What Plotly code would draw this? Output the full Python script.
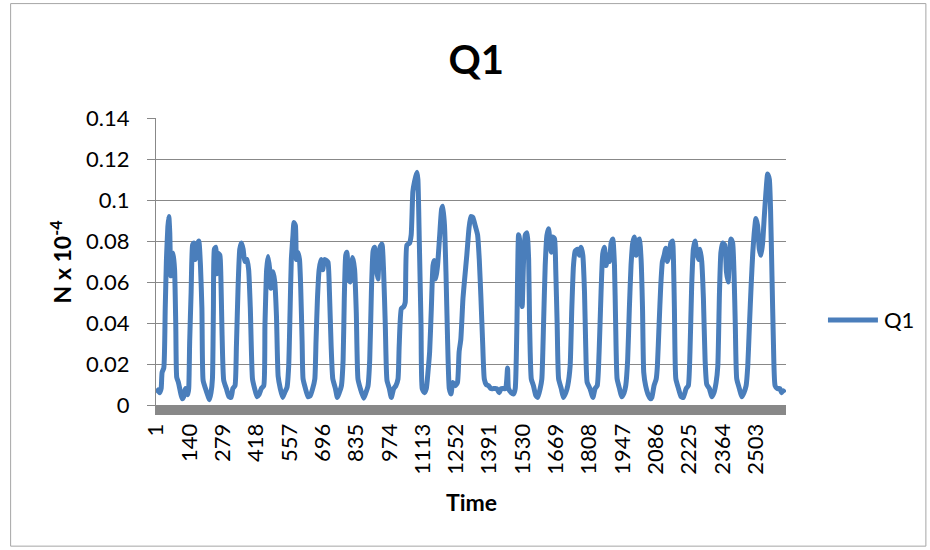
import plotly.graph_objects as go

# Sampled readings of Q1 over time (time index, N x 10^-4)
time = [
    1, 16, 22, 26, 33, 39, 44, 50, 54, 58, 62, 66, 72, 78, 83, 87, 94, 103, 110, 116,
    123, 133, 137, 141, 147, 153, 158, 164, 169, 179, 186, 192, 197, 207, 217, 223, 230, 236, 240, 244,
    250, 254, 260, 267, 271, 276, 283, 294, 305, 314, 321, 330, 336, 343, 350, 357, 364, 371, 380, 387,
    394, 403, 412, 422, 430, 440, 450, 455, 462, 468, 475, 480, 489, 496, 503, 510, 519, 529, 537, 547,
    554, 560, 565, 572, 576, 582, 586, 592, 599, 604, 610, 614, 624, 635, 644, 654, 663, 668, 674, 681,
    689, 696, 704, 711, 718, 724, 731, 738, 749, 757, 765, 774, 781, 786, 792, 797, 804, 811, 821, 829,
    836, 843, 853, 867, 876, 885, 892, 899, 906, 912, 920, 926, 935, 943, 950, 957, 964, 974, 982, 992,
    1001, 1010, 1015, 1024, 1034, 1040, 1047, 1058, 1065, 1072, 1079, 1089, 1093, 1099, 1106, 1111, 1120, 1128, 1135, 1142,
    1149, 1156, 1161, 1168, 1175, 1184, 1192, 1197, 1204, 1210, 1217, 1224, 1231, 1239, 1249, 1258, 1265, 1272, 1281, 1288,
    1297, 1306, 1314, 1322, 1332, 1342, 1349, 1356, 1363, 1370, 1378, 1388, 1397, 1408, 1422, 1432, 1440, 1450, 1459, 1467,
    1471, 1482, 1492, 1499, 1506, 1513, 1517, 1523, 1528, 1534, 1541, 1548, 1555, 1559, 1566, 1575, 1585, 1593, 1603, 1610,
    1617, 1624, 1631, 1638, 1643, 1649, 1656, 1663, 1668, 1674, 1680, 1691, 1700, 1710, 1718, 1728, 1735, 1742, 1749, 1759,
    1767, 1774, 1781, 1788, 1793, 1799, 1811, 1823, 1832, 1841, 1849, 1857, 1864, 1871, 1878, 1885, 1892, 1899, 1906, 1913,
    1918, 1924, 1934, 1943, 1953, 1960, 1968, 1975, 1982, 1989, 1996, 2003, 2010, 2017, 2024, 2030, 2035, 2043, 2055, 2064,
    2069, 2078, 2087, 2092, 2099, 2106, 2113, 2120, 2127, 2134, 2141, 2148, 2155, 2159, 2163, 2169, 2180, 2191, 2200, 2212,
    2221, 2228, 2235, 2242, 2249, 2256, 2263, 2270, 2277, 2284, 2291, 2298, 2309, 2319, 2328, 2337, 2344, 2351, 2357, 2364,
    2373, 2380, 2387, 2392, 2399, 2406, 2412, 2417, 2423, 2434, 2444, 2453, 2462, 2469, 2476, 2483, 2490, 2496, 2503, 2510,
    2517, 2524, 2531, 2538, 2545, 2552, 2559, 2564, 2570, 2576, 2583, 2592, 2603, 2610, 2617, 2624,
]

q1 = [
    0.008, 0.006, 0.008, 0.016, 0.018, 0.047, 0.071, 0.087, 0.092, 0.084, 0.063, 0.073, 0.074, 0.066, 0.039, 0.0135, 0.011, 0.006, 0.003, 0.004,
    0.008, 0.005, 0.008, 0.031, 0.055, 0.078, 0.079, 0.071, 0.077, 0.080, 0.068, 0.047, 0.012, 0.008, 0.0045, 0.0026, 0.006, 0.013, 0.047, 0.076,
    0.077, 0.064, 0.074, 0.073, 0.063, 0.035, 0.012, 0.008, 0.004, 0.0037, 0.008, 0.0094, 0.029, 0.058, 0.076, 0.079, 0.076, 0.070, 0.071, 0.066,
    0.047, 0.0127, 0.008, 0.004, 0.005, 0.008, 0.0094, 0.039, 0.066, 0.0725, 0.066, 0.057, 0.065, 0.060, 0.0435, 0.014, 0.008, 0.0037, 0.006, 0.0086,
    0.019, 0.047, 0.071, 0.083, 0.089, 0.0875, 0.071, 0.0745, 0.071, 0.058, 0.031, 0.0127, 0.008, 0.004, 0.0046, 0.008, 0.0127, 0.031, 0.052, 0.066,
    0.071, 0.066, 0.071, 0.0705, 0.0696, 0.055, 0.029, 0.0127, 0.008, 0.0037, 0.006, 0.0094, 0.022, 0.052, 0.073, 0.0745, 0.0615, 0.060, 0.072, 0.066,
    0.045, 0.0127, 0.008, 0.0033, 0.006, 0.0094, 0.022, 0.055, 0.075, 0.077, 0.066, 0.0615, 0.077, 0.0785, 0.065, 0.039, 0.012, 0.008, 0.0037, 0.008,
    0.0094, 0.0127, 0.029, 0.047, 0.048, 0.050, 0.078, 0.079, 0.083, 0.104, 0.109, 0.1135, 0.110, 0.079, 0.039, 0.008, 0.006, 0.008, 0.016, 0.026,
    0.047, 0.068, 0.0705, 0.0615, 0.068, 0.083, 0.0956, 0.097, 0.0875, 0.065, 0.0306, 0.008, 0.0054, 0.011, 0.0094, 0.011, 0.026, 0.032, 0.052, 0.0615,
    0.073, 0.086, 0.092, 0.0915, 0.0875, 0.083, 0.071, 0.052, 0.0306, 0.0127, 0.010, 0.0094, 0.008, 0.008, 0.008, 0.006, 0.008, 0.008, 0.008, 0.018,
    0.008, 0.006, 0.0054, 0.008, 0.039, 0.083, 0.081, 0.058, 0.048, 0.071, 0.083, 0.084, 0.071, 0.039, 0.0127, 0.0094, 0.0046, 0.0037, 0.008, 0.0127,
    0.039, 0.068, 0.0826, 0.086, 0.081, 0.0745, 0.082, 0.081, 0.066, 0.039, 0.0127, 0.008, 0.0037, 0.006, 0.0094, 0.019, 0.047, 0.068, 0.075, 0.076,
    0.073, 0.077, 0.073, 0.055, 0.029, 0.011, 0.008, 0.0037, 0.008, 0.0094, 0.026, 0.055, 0.0737, 0.077, 0.068, 0.073, 0.070, 0.079, 0.081, 0.068,
    0.039, 0.0127, 0.008, 0.004, 0.006, 0.0094, 0.022, 0.047, 0.068, 0.079, 0.082, 0.073, 0.080, 0.081, 0.071, 0.047, 0.016, 0.0094, 0.0046, 0.003,
    0.0037, 0.0094, 0.0127, 0.019, 0.039, 0.058, 0.070, 0.073, 0.0765, 0.070, 0.073, 0.079, 0.080, 0.071, 0.047, 0.0127, 0.008, 0.004, 0.0037, 0.008,
    0.0094, 0.026, 0.058, 0.076, 0.080, 0.0745, 0.071, 0.076, 0.070, 0.052, 0.022, 0.010, 0.008, 0.004, 0.006, 0.011, 0.019, 0.055, 0.0745, 0.079,
    0.078, 0.065, 0.060, 0.071, 0.081, 0.079, 0.063, 0.039, 0.0127, 0.008, 0.004, 0.006, 0.0094, 0.019, 0.039, 0.058, 0.0745, 0.084, 0.091, 0.0875,
    0.076, 0.073, 0.079, 0.092, 0.104, 0.1127, 0.110, 0.0956, 0.063, 0.0306, 0.0094, 0.008, 0.008, 0.006, 0.007, 0.006,
]

n_categories = 2628
x_tick_values = list(range(1, 2504, 139))
x_tick_labels = [str(v) for v in x_tick_values]
y_tick_values = [0, 0.02, 0.04, 0.06, 0.08, 0.1, 0.12, 0.14]
y_tick_labels = ["0", "0.02", "0.04", "0.06", "0.08", "0.1", "0.12", "0.14"]

series_name = "Q1"
line_color = "#4a7ebb"
axis_gray = "#888888"
font_family = "Lato, 'Open Sans', sans-serif"

# plot-area geometry in pixels (used to place items outside it)
W, H = 930, 550
L, R, T, B = 155.5, 144, 118.3, 145
pw, ph = W - L - R, H - T - B


def px_x(px):
    return (px - L) / pw


def px_y(py):
    return (H - B - py) / ph


fig = go.Figure()
fig.add_trace(go.Scatter(
    x=time, y=q1, mode="lines", name=series_name, showlegend=False,
    line=dict(color=line_color, width=5, shape="spline", smoothing=0.5),
))

fig.update_layout(
    width=W, height=H,
    margin=dict(l=L, r=R, t=T, b=B, pad=0),
    paper_bgcolor="white", plot_bgcolor="white",
    font=dict(family=font_family, color="#000000", size=22),
    title=dict(text="<b>Q1</b>", x=px_x(476), xref="paper", xanchor="center",
               y=1 - 60 / H, yanchor="middle", font=dict(size=40)),
    xaxis=dict(
        range=[0.5, n_categories + 0.5], tickmode="array",
        tickvals=x_tick_values, ticktext=x_tick_labels, tickangle=-90,
        showgrid=False, zeroline=False, showline=True, linecolor=axis_gray,
        linewidth=10, ticks="", ticklabelstandoff=0,
        tickfont=dict(size=22),
    ),
    yaxis=dict(
        range=[0, 0.14], tickmode="array", tickvals=y_tick_values, ticktext=y_tick_labels,
        showgrid=True, gridcolor=axis_gray, gridwidth=1.3, zeroline=False,
        showline=True, linecolor=axis_gray, linewidth=1.3,
        ticks="outside", ticklen=8, tickcolor=axis_gray, tickwidth=1.3,
        ticklabelstandoff=13, tickfont=dict(size=22),
    ),
)

# axis titles
fig.add_annotation(text="<b>N x 10<sup>-4</sup></b>", textangle=-90,
                   x=px_x(61), y=px_y(262), xref="paper", yref="paper",
                   xanchor="center", yanchor="middle",
                   showarrow=False, font=dict(size=23))
fig.add_annotation(text="<b>Time</b>", x=px_x(471), y=px_y(502),
                   xref="paper", yref="paper", xanchor="center", yanchor="middle",
                   showarrow=False, font=dict(size=23))

# legend key
fig.add_shape(type="line", xref="paper", yref="paper",
              x0=px_x(828), x1=px_x(878), y0=px_y(320), y1=px_y(320),
              line=dict(color=line_color, width=5))
fig.add_annotation(text=series_name, x=px_x(882), y=px_y(320),
                   xanchor="left", yanchor="middle",
                   xref="paper", yref="paper", showarrow=False, font=dict(size=22))

# chart border
fig.add_shape(type="rect", xref="paper", yref="paper",
              x0=px_x(10), x1=px_x(926), y0=px_y(546), y1=px_y(4),
              line=dict(color="#a6a6a6", width=1), layer="below")

fig.write_html("out.html")
